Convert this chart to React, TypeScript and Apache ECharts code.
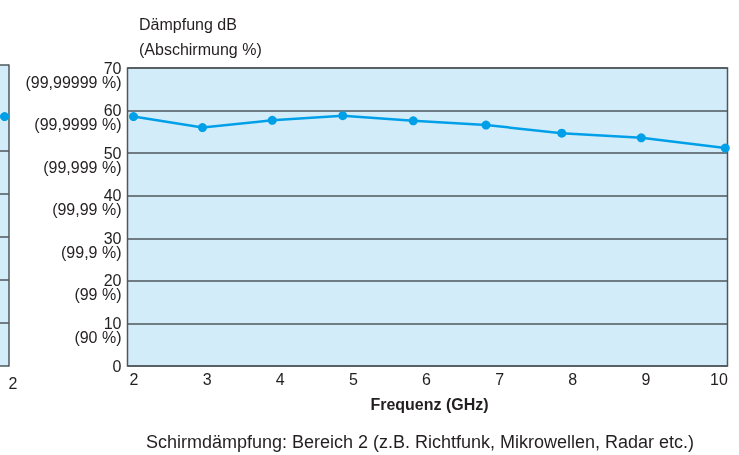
import React, { useEffect, useRef } from "react";
import * as echarts from "echarts";

// Main chart (Bereich 2): frequency (GHz) and attenuation (dB)
const frequencies = [2.08, 3.0, 3.93, 4.87, 5.81, 6.78, 7.79, 8.85, 9.97];
const attenuation = [58.6, 56.0, 57.7, 58.8, 57.6, 56.6, 54.7, 53.6, 51.2];
const xTickMin = 2;
const xTickMax = 10;
const yMin = 0;
const yMax = 70;
const shieldingLabels = ["", "90 %", "99 %", "99,9 %", "99,99 %", "99,999 %", "99,9999 %", "99,99999 %"];

// Partial neighbouring chart (Bereich 1) visible at the left edge
const prevFrequencies = [1.6, 2.0];
const prevAttenuation = [58.0, 58.0];
const prevFrameLines = [0, 10, 20, 30, 40, 50, 70];
const prevTickLabel = 2;

const FONT = "'Liberation Sans', Arial, Helvetica, sans-serif";
const TEXT = "#231f20";
const LINE = "#4f575b";
const BG = "#d3ecfa";
const BLUE = "#00a0e9";

export default function App() {
  const ref = useRef<HTMLDivElement>(null);
  useEffect(() => {
    if (!ref.current) return;
    const chart = echarts.init(ref.current, undefined, { renderer: "svg" });
    const option = {
      animation: false,
      textStyle: { fontFamily: FONT, color: TEXT },
      grid: [
        { left: 127.5, top: 68, width: 600, height: 298, show: true, backgroundColor: BG, borderColor: LINE, borderWidth: 1.5 },
        { left: 0, top: 65, width: 9, height: 301, show: true, backgroundColor: BG, borderWidth: 0 },
        { left: 134, top: 68, width: 585, height: 298, show: false },
      ],
      xAxis: [
        { type: "value", gridIndex: 0, min: xTickMin, max: xTickMax, interval: 1, axisLine: { show: false }, axisTick: { show: false }, axisLabel: { show: false }, splitLine: { show: false } },
        {
          type: "value", gridIndex: 1, min: 1.9, max: 2.097, interval: 0.1,
          axisLine: { show: false }, axisTick: { show: false }, splitLine: { show: false },
          axisLabel: {
            show: true, margin: 9, fontSize: 16, color: TEXT, fontFamily: FONT, padding: [0, 0, 0, 17],
            showMinLabel: false, showMaxLabel: false,
            formatter: (v: number) => (Math.abs(v - prevTickLabel) < 1e-6 ? String(prevTickLabel) : ""),
          },
        },
        {
          type: "value", gridIndex: 2, min: xTickMin, max: xTickMax, interval: 1,
          axisLine: { show: false }, axisTick: { show: false }, splitLine: { show: false },
          axisLabel: { show: true, margin: 5, fontSize: 16, color: TEXT, fontFamily: FONT },
        },
      ],
      yAxis: [
        {
          type: "value", gridIndex: 0, min: yMin, max: yMax, interval: 10,
          axisLine: { show: false }, axisTick: { show: false },
          splitLine: { show: true, lineStyle: { color: LINE, width: 1.5 } },
          axisLabel: {
            show: true, margin: 6, fontSize: 16, color: TEXT, fontFamily: FONT,
            formatter: (v: number) => {
              const idx = Math.round(v / 10);
              if (idx === 0) return String(v);
              return `{e| }\n{n|${v}}\n{p|(${shieldingLabels[idx]})}`;
            },
            rich: {
              e: { fontSize: 1, lineHeight: 14, align: "right" },
              n: { fontSize: 16, lineHeight: 14, align: "right", color: TEXT, fontFamily: FONT },
              p: { fontSize: 16, lineHeight: 14, align: "right", color: TEXT, fontFamily: FONT },
            },
          },
        },
        {
          type: "value", gridIndex: 1, min: yMin, max: yMax, interval: 10, position: "right",
          axisLine: { show: true, lineStyle: { color: LINE, width: 1.5 } },
          axisTick: { show: false }, axisLabel: { show: false }, splitLine: { show: false },
        },
        { type: "value", gridIndex: 2, min: yMin, max: yMax, show: false },
      ],
      graphic: [
        { type: "text", left: 139, top: 16, style: { text: "Dämpfung dB", font: `16px ${FONT}`, fill: TEXT } },
        { type: "text", left: 139, top: 41.5, style: { text: "(Abschirmung %)", font: `16px ${FONT}`, fill: TEXT } },
        { type: "text", x: 429.5, y: 404.5, style: { text: "Frequenz (GHz)", font: `bold 16px ${FONT}`, fill: TEXT, textAlign: "center", textVerticalAlign: "middle" } },
        { type: "text", x: 420, y: 441.5, style: { text: "Schirmdämpfung: Bereich 2 (z.B. Richtfunk, Mikrowellen, Radar etc.)", font: `18px ${FONT}`, fill: TEXT, textAlign: "center", textVerticalAlign: "middle" } },
      ],
      series: [
        {
          type: "line", xAxisIndex: 0, yAxisIndex: 0, clip: false,
          data: frequencies.map((f, i) => [f, attenuation[i]]),
          symbol: "circle", symbolSize: 9,
          lineStyle: { color: BLUE, width: 2.5 },
          itemStyle: { color: BLUE },
        },
        {
          type: "line", xAxisIndex: 1, yAxisIndex: 1, clip: true,
          data: prevFrequencies.map((f, i) => [f, prevAttenuation[i]]),
          symbol: "circle", symbolSize: 9,
          lineStyle: { color: BLUE, width: 2.5 },
          itemStyle: { color: BLUE },
          markLine: {
            silent: true, symbol: "none", label: { show: false },
            lineStyle: { color: LINE, width: 1.5, type: "solid" },
            data: prevFrameLines.map((v) => ({ yAxis: v })),
          },
        },
      ],
    };
    chart.setOption(option as any);
    return () => chart.dispose();
  }, []);
  return <div ref={ref} style={{ position: "fixed", left: 0, top: 0, width: 739, height: 455 }} />;
}
